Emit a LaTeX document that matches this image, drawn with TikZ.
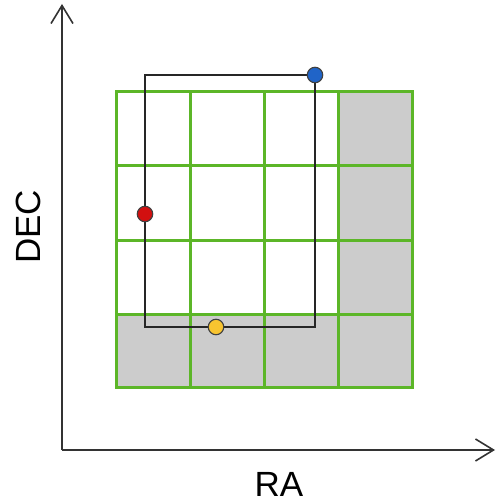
\documentclass[tikz,border=0pt]{standalone}
\usepackage{fontspec}
\setmainfont{Liberation Sans}
\usetikzlibrary{arrows.meta}
\definecolor{gridgreen}{RGB}{92,182,40}
\definecolor{cellgrey}{RGB}{204,204,204}
\definecolor{dotblue}{RGB}{32,100,200}
\definecolor{dotred}{RGB}{210,16,16}
\definecolor{dotyellow}{RGB}{248,196,48}
\tikzset{
  axis/.style={line width=1.8pt, black!80, -{Straight Barb[length=18pt,width=22pt,line width=1.6pt]}},
  gridline/.style={gridgreen, line width=3.0pt, line cap=rect},
  greycell/.style={fill=cellgrey},
  footprint/.style={black!85, line width=2pt},
  dot/.style={circle, draw=black!75, line width=1.1pt, minimum size=15.5pt, inner sep=0pt},
  axislabel/.style={font=\fontsize{35}{35}\selectfont, text=black}
}
\begin{document}
\begin{tikzpicture}[x=1pt,y=-1pt]
\useasboundingbox (0,0) rectangle (496,502);
% grey cells
\fill[greycell] (116,314) rectangle (412,387);
\fill[greycell] (338,92) rectangle (412,314);
% grid
\foreach \x in {116,190,264,338,412} \draw[gridline] (\x,92) -- (\x,387);
\foreach \y in {92,166,240,314,387} \draw[gridline] (116,\y) -- (412,\y);
% footprint
\draw[footprint] (145,75) rectangle (315,327);
% dots
\node[dot, fill=dotblue] (blue) at (315,75) {};
\node[dot, fill=dotred] (red) at (145,214) {};
\node[dot, fill=dotyellow] (yellow) at (216,327) {};
% axes
\coordinate (origin) at (62,450);
\coordinate (ytip) at (62,4);
\coordinate (xtip) at (495,450);
\draw[axis] (origin) -- (ytip);
\draw[axis] (origin) -- (xtip);
\node[axislabel, rotate=90] (dec) at (28,227) {DEC};
\node[axislabel] (ra) at (279,484) {RA};
\end{tikzpicture}
\end{document}
